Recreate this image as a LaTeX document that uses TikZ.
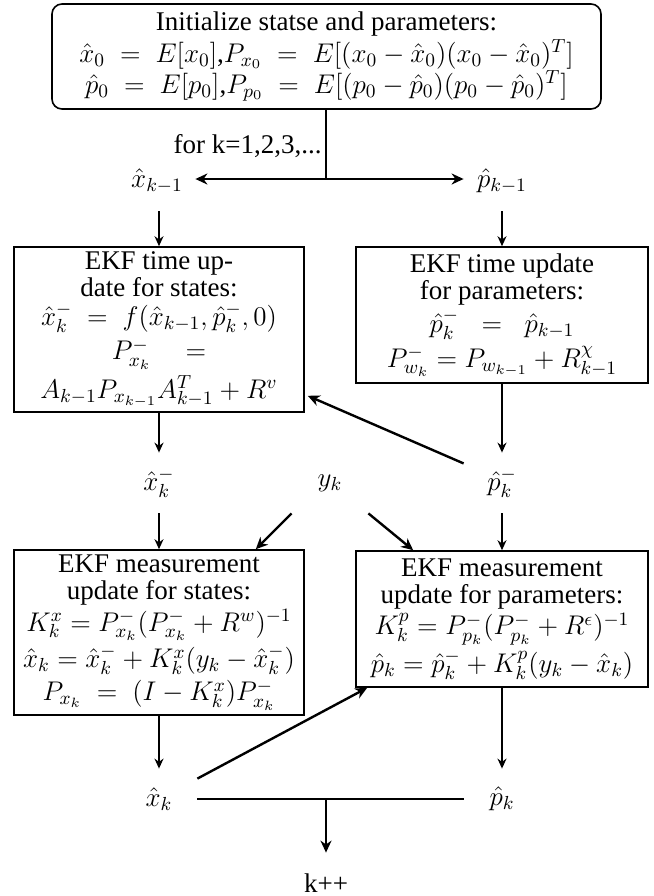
\RequirePackage{fix-cm}
\documentclass[tikz,border=0pt]{standalone}
\usepackage[no-math]{fontspec}
\setmainfont{Liberation Serif}
\usetikzlibrary{arrows.meta,calc}
\begin{document}
\begin{tikzpicture}[x=0.5pt,y=-0.5pt,
  font=\fontsize{13.5}{13.5}\selectfont,
  box/.style={draw, line width=0.8pt, align=center, inner sep=0pt},
  lbl/.style={minimum width=38pt, minimum height=30pt, inner sep=0pt},
  arr/.style={line width=0.8pt, -{Stealth[length=5pt,width=4.5pt]}},
  tarr/.style={line width=1.2pt, -{Stealth[length=6pt,width=5.5pt]}},
  link/.style={line width=1.2pt}]
\useasboundingbox (0,0) rectangle (654,896);

% initialisation
\node[box, rounded corners=5pt, minimum width=274.5pt, minimum height=52.5pt] (init) at (326.5,56.5)
  {Initialize statse and parameters:\\[0.5pt]
   $\hat{x}_0 \;=\; E[x_0]$,$P_{x_0} \;=\; E[(x_0-\hat{x}_0)(x_0-\hat{x}_0)^T]$\\
   $\hat{p}_0 \;=\; E[p_0]$,$P_{p_0} \;=\; E[(p_0-\hat{p}_0)(p_0-\hat{p}_0)^T]$};
\coordinate (split) at (326,179);
\node[anchor=east, inner sep=0pt] (loop) at (322,146) {for k=1,2,3,...};
\node[lbl] (xk1) at (157,181) {$\hat{x}_{k-1}$};
\node[lbl] (pk1) at (502,181) {$\hat{p}_{k-1}$};

% time update
\node[box, minimum width=145pt, minimum height=82.5pt] (tx) at (159,329.5)
  {EKF time up-\\ date for states:\\[1pt]
   $\hat{x}_k^- \;=\; f(\hat{x}_{k-1},\hat{p}_k^-,0)$\\[2pt]
   $P^-_{x_k}\quad=$\\[2pt]
   $A_{k-1}P_{x_{k-1}}A^T_{k-1}+R^v$};
\node[box, minimum width=146pt, minimum height=68pt] (tp) at (502,315)
  {EKF time update\\ for parameters:\\[1.5pt]
   $\hat{p}_k^- \;\;=\;\; \hat{p}_{k-1}$\\[2.5pt]
   $P^-_{w_k}=P_{w_{k-1}}+R^{\chi}_{k-1}$};

\node[lbl] (xkm) at (159,483) {$\hat{x}_k^-$};
\node[lbl] (yk)  at (330,483) {$y_k$};
\node[lbl] (pkm) at (502,483) {$\hat{p}_k^-$};

% measurement update
\node[box, minimum width=145pt, minimum height=82.5pt] (mx) at (159,632.5)
  {EKF measurement\\ update for states:\\[1pt]
   $K^x_k=P^-_{x_k}(P^-_{x_k}+R^w)^{-1}$\\[1.5pt]
   $\hat{x}_k=\hat{x}^-_k+K^x_k(y_k-\hat{x}^-_k)$\\[1.5pt]
   $P_{x_k} \;=\; (I-K^x_k)P^-_{x_k}$};
\node[box, minimum width=146pt, minimum height=68pt] (mp) at (502,619)
  {EKF measurement\\ update for parameters:\\[1pt]
   $K^p_k=P^-_{p_k}(P^-_{p_k}+R^\epsilon)^{-1}$\\[1.5pt]
   $\hat{p}_k=\hat{p}^-_k+K^p_k(y_k-\hat{x}_k)$};

\node[lbl] (xk) at (159,799) {$\hat{x}_k$};
\node[lbl] (pk) at (502,799) {$\hat{p}_k$};
\coordinate (merge) at (326,799);
\node[lbl] (kpp) at (326,883) {k++};

% connectors
\draw[link] (init.south -| split) -- (split);
\draw[tarr] (split) -- (split -| xk1.east);
\draw[tarr] (split) -- (split -| pk1.west);
\draw[arr] (xk1.south -| tx.north) -- (tx.north);
\draw[arr] (pk1) -- (tp);
\draw[arr] (tx) -- (xkm);
\draw[arr] (tp) -- (pkm);
\draw[tarr] (pkm.153) -- ($(tx.south east)+(3,-17)$);
\draw[arr] (xkm) -- (mx);
\draw[arr] (pkm) -- (mp);
\draw[tarr] (yk.south west) -- ($(mx.north east)+(-49,0)$);
\draw[tarr] (yk.south east) -- ($(mp.north west)+(58,0)$);
\draw[arr] (mx) -- (xk);
\draw[arr] (mp) -- (pk);
\draw[tarr] (xk.28) -- ($(mp.south west)+(12,0)$);
\draw[link] (xk.east) -- (pk.west);
\draw[tarr] (merge) -- (kpp);
\end{tikzpicture}
\end{document}
